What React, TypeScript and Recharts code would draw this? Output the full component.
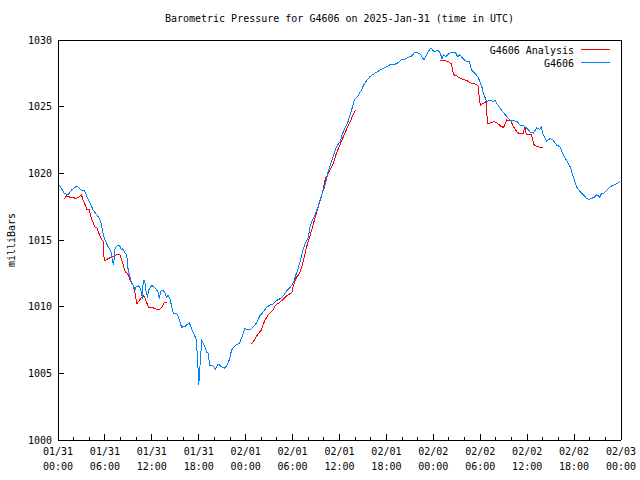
import React from "react";
import { LineChart, Line, XAxis, YAxis, Legend } from "recharts";

const FONT = '"DejaVu Sans Mono", "Liberation Mono", monospace';

// hours since 2025-01-31 00:00 UTC
const stationHours = [
  0.2, 0.8, 1.3, 1.75, 2.4, 2.7, 3.0, 3.4, 3.7, 4.1, 4.5, 4.95, 5.4, 5.6, 5.8, 6.0, 6.4, 6.8, 6.95, 7.1,
  7.3, 7.6, 7.9, 8.1, 8.3, 8.6, 8.8, 8.9, 9.1, 9.3, 9.6, 9.85, 10.0, 10.3, 10.5, 10.6, 10.8, 10.9, 11.1, 11.3,
  11.45, 11.6, 12.0, 12.4, 12.8, 12.95, 13.2, 13.5, 13.7, 13.9, 14.1, 14.3, 14.55, 14.75, 15.2, 15.4, 15.8, 16.3, 16.8, 17.1,
  17.4, 17.7, 17.95, 18.0, 18.25, 18.4, 18.8, 19.0, 19.2, 19.4, 19.85, 20.1, 20.5, 20.9, 21.3, 21.6, 21.9, 22.2, 22.7, 23.2,
  23.5, 23.9, 24.5, 25.0, 25.4, 25.8, 26.25, 26.6, 27.0, 27.5, 27.9, 28.4, 28.8, 29.2, 29.7, 30.1, 30.4, 30.7, 30.9, 31.3,
  31.7, 32.0, 32.2, 32.4, 32.8, 33.2, 33.5, 33.8, 34.1, 34.3, 34.6, 34.9, 35.2, 35.6, 36.1, 36.4, 36.7, 37.1, 37.5, 37.9,
  38.3, 38.8, 39.2, 39.9, 40.5, 41.2, 41.7, 42.1, 42.6, 43.0, 43.5, 43.9, 44.5, 45.2, 45.6, 46.0, 46.4, 46.8, 47.3, 47.7,
  48.1, 48.6, 48.9, 49.1, 49.3, 49.6, 50.0, 50.4, 50.8, 51.1, 51.4, 51.8, 52.2, 52.6, 52.9, 53.3, 53.7, 54.2, 54.4, 54.8,
  55.2, 55.7, 55.9, 56.1, 56.5, 56.9, 57.4, 57.8, 58.2, 58.7, 59.1, 59.5, 59.9, 60.4, 60.8, 61.2, 61.6, 61.8, 62.0, 62.5,
  62.9, 63.3, 63.8, 64.2, 64.6, 65.0, 65.5, 65.9, 66.3, 66.8, 67.2, 67.6, 68.0, 68.7, 68.9, 69.3, 69.5, 69.7, 70.2, 70.6,
  71.0, 71.4, 71.9,
];
const stationMb = [
  1019.1, 1018.5, 1018.4, 1018.75, 1019.05, 1018.9, 1018.7, 1018.7, 1018.25, 1017.75, 1017.25, 1016.9, 1016.5, 1016.0, 1015.4, 1015.0, 1014.5, 1014.1, 1013.5, 1013.1,
  1014.4, 1014.6, 1014.55, 1014.25, 1014.35, 1014.0, 1013.9, 1013.0, 1012.5, 1012.0, 1011.6, 1011.25, 1011.5, 1011.55, 1011.4, 1011.2, 1010.6, 1012.0, 1011.9, 1011.0,
  1010.75, 1011.25, 1011.6, 1011.4, 1011.1, 1010.6, 1011.25, 1011.2, 1011.0, 1010.7, 1010.85, 1010.6, 1010.0, 1009.5, 1009.5, 1009.25, 1008.45, 1008.55, 1008.8, 1008.3,
  1007.95, 1007.5, 1004.95, 1004.1, 1006.4, 1007.45, 1007.0, 1006.6, 1006.5, 1005.6, 1005.55, 1005.3, 1005.7, 1005.5, 1005.4, 1005.6, 1006.0, 1006.75, 1007.1, 1007.25,
  1007.7, 1008.35, 1008.25, 1008.5, 1008.8, 1009.3, 1009.6, 1009.9, 1010.1, 1010.2, 1010.45, 1010.6, 1010.8, 1011.15, 1011.45, 1011.8, 1012.35, 1012.85, 1013.25, 1014.2,
  1014.85, 1015.2, 1015.9, 1016.3, 1016.8, 1017.4, 1018.0, 1018.5, 1019.0, 1019.5, 1020.25, 1020.75, 1021.25, 1022.0, 1022.4, 1023.0, 1023.4, 1023.9, 1024.65, 1025.5,
  1025.75, 1026.25, 1026.75, 1027.25, 1027.5, 1027.75, 1027.9, 1028.0, 1028.2, 1028.15, 1028.3, 1028.5, 1028.6, 1028.8, 1029.05, 1029.05, 1028.9, 1028.5, 1029.1, 1029.4,
  1029.1, 1029.25, 1029.0, 1028.6, 1028.9, 1028.75, 1029.0, 1029.1, 1029.1, 1028.75, 1028.9, 1028.6, 1028.4, 1028.4, 1027.75, 1027.5, 1027.25, 1026.5, 1026.0, 1025.4,
  1025.45, 1025.4, 1025.5, 1025.25, 1024.9, 1024.6, 1024.25, 1024.0, 1023.95, 1023.9, 1023.6, 1023.6, 1023.4, 1023.1, 1023.0, 1023.4, 1023.3, 1023.5, 1023.0, 1022.4,
  1022.6, 1022.5, 1022.1, 1022.0, 1021.4, 1021.0, 1020.5, 1019.75, 1019.0, 1018.6, 1018.4, 1018.1, 1018.05, 1018.25, 1018.4, 1018.2, 1018.5, 1018.45, 1018.75, 1019.0,
  1019.1, 1019.2, 1019.4,
];

// null marks a break between analysis runs
const analysisHours = [
  0.8, 1.1, 1.6, 2.0, 2.2, 2.6, 3.0, 3.2, 3.5, 3.7, 4.0, 4.2, 4.5, 4.7, 5.0, 5.3, 5.6, 5.8, 5.9, 6.0,
  6.4, 6.8, 7.2, 7.7, 7.9, 8.1, 8.35, 8.6, 8.9, 9.2, 9.6, 9.8, 10.1, 10.3, 10.7, 10.9, 11.1, 11.3, 11.6, 12.2,
  12.6, 13.0, 13.2, 13.6, 14.0, 19.0,
  24.7, 25.0, 25.4, 26.0, 26.4, 26.9, 27.5, 27.8, 28.3, 28.9, 29.3, 29.9, 30.1, 30.5, 30.9, 31.2, 31.5, 31.8, 32.2, 32.6,
  33.0, 33.4, 33.8, 34.2, 34.8, 35.2, 35.6, 36.1, 36.5, 36.9, 37.4, 37.8, 38.1, 43.0,
  48.8, 49.9, 50.3, 50.6, 51.0, 51.5, 52.3, 52.7, 53.3, 53.7, 54.0, 54.4, 54.8, 54.9, 55.4, 55.8, 56.3, 56.7, 57.0, 57.4,
  57.9, 58.2, 58.7, 59.1, 59.5, 59.7, 59.9, 60.5, 60.7, 60.8, 61.2, 61.7, 62.0,
];
const analysisMb = [
  1018.1, 1018.3, 1018.2, 1018.2, 1018.1, 1018.2, 1018.4, 1018.0, 1017.6, 1017.3, 1017.3, 1016.75, 1016.3, 1016.0, 1015.9, 1015.4, 1015.0, 1014.9, 1013.5, 1013.45,
  1013.6, 1013.7, 1013.8, 1013.95, 1013.9, 1013.6, 1013.1, 1012.6, 1012.5, 1012.0, 1011.6, 1011.2, 1010.2, 1010.4, 1010.7, 1010.85, 1010.7, 1010.35, 1009.95, 1009.9,
  1009.8, 1009.8, 1009.9, 1010.3, 1010.3, null,
  1007.2, 1007.4, 1007.8, 1008.25, 1008.9, 1009.4, 1009.75, 1010.1, 1010.3, 1010.6, 1010.85, 1011.05, 1011.6, 1012.2, 1012.5, 1013.0, 1013.75, 1014.5, 1015.25, 1016.1,
  1016.9, 1017.75, 1018.5, 1019.6, 1020.25, 1020.75, 1021.5, 1022.2, 1022.75, 1023.3, 1023.9, 1024.5, 1024.75, null,
  1028.5, 1028.4, 1028.2, 1027.4, 1027.3, 1027.1, 1026.95, 1026.8, 1026.7, 1026.6, 1025.1, 1025.25, 1025.4, 1023.7, 1023.8, 1023.9, 1023.7, 1023.5, 1023.45, 1024.0,
  1023.95, 1023.55, 1023.1, 1022.95, 1023.0, 1023.5, 1022.9, 1022.95, 1022.6, 1022.2, 1022.0, 1021.95, 1021.95,
];

const seriesNames = ["G4606 Analysis", "G4606"];
const hourTicks = [0, 2, 4, 6, 8, 10, 12, 14, 16, 18, 20, 22, 24, 26, 28, 30, 32, 34, 36, 38, 40, 42, 44, 46, 48, 50, 52, 54, 56, 58, 60, 62, 64, 66, 68, 70, 72];
const tickDates = ["01/31", "01/31", "01/31", "01/31", "02/01", "02/01", "02/01", "02/01", "02/02", "02/02", "02/02", "02/02", "02/03"];
const tickTimes = ["00:00", "06:00", "12:00", "18:00", "00:00", "06:00", "12:00", "18:00", "00:00", "06:00", "12:00", "18:00", "00:00"];
const mbTicks = [1000, 1005, 1010, 1015, 1020, 1025, 1030];

const stationData = stationHours.map((t, i) => ({ t, p: stationMb[i] }));
const analysisData = analysisHours.map((t, i) => ({ t, p: analysisMb[i] }));

const axisStyle = { stroke: "#000", strokeWidth: 1, shapeRendering: "crispEdges" };

function BottomTick({ x, y, payload }: any) {
  const h = payload.value;
  const major = h % 6 === 0;
  return (
    <g>
      <line x1={x} y1={y} x2={x} y2={y - (major ? 6 : 3)} stroke="#000" shapeRendering="crispEdges" />
      {major && (
        <text x={x} y={y} textAnchor="middle" fontFamily={FONT} fontSize={10} fill="#000">
          <tspan x={x} dy={15}>{tickDates[h / 6]}</tspan>
          <tspan x={x} dy={15}>{tickTimes[h / 6]}</tspan>
        </text>
      )}
    </g>
  );
}

function TopTick({ x, y, payload }: any) {
  const major = payload.value % 6 === 0;
  return <line x1={x} y1={y} x2={x} y2={y + (major ? 6 : 3)} stroke="#000" shapeRendering="crispEdges" />;
}

function LeftTick({ x, y, payload }: any) {
  return (
    <g>
      <line x1={x} y1={y} x2={x + 6} y2={y} stroke="#000" shapeRendering="crispEdges" />
      <text x={x - 6} y={y + 3.5} textAnchor="end" fontFamily={FONT} fontSize={10} fill="#000">
        {payload.value}
      </text>
    </g>
  );
}

function RightTick({ x, y }: any) {
  return <line x1={x} y1={y} x2={x - 6} y2={y} stroke="#000" shapeRendering="crispEdges" />;
}

function YLabel({ viewBox }: any) {
  const cy = viewBox.y + viewBox.height / 2;
  return (
    <text x={11} y={cy} transform={`rotate(-90 11 ${cy})`} textAnchor="middle" dominantBaseline="central" fontFamily={FONT} fontSize={10} fill="#000">
      milliBars
    </text>
  );
}

function LegendBox({ payload }: any) {
  const items = (payload || []).slice().sort((a: any, b: any) => seriesNames.indexOf(a.value) - seriesNames.indexOf(b.value));
  return (
    <svg width={150} height={30} style={{ display: "block" }}>
      {items.map((e: any, i: number) => (
        <g key={e.value}>
          <text x={104} y={8 + i * 13 + 3.5} textAnchor="end" fontFamily={FONT} fontSize={10} fill="#000">
            {e.value}
          </text>
          <line x1={111} x2={140} y1={7.5 + i * 13} y2={7.5 + i * 13} stroke={e.color} shapeRendering="crispEdges" />
        </g>
      ))}
    </svg>
  );
}

export default function App() {
  return (
    <div style={{ position: "absolute", left: 0, top: 0, width: 640, height: 480, background: "#fff" }}>
      <div
        style={{
          position: "absolute",
          left: 58,
          width: 563,
          top: 12,
          textAlign: "center",
          fontFamily: FONT,
          fontSize: 10,
          lineHeight: "14px",
          color: "#000",
        }}
      >
        Barometric Pressure for G4606 on 2025-Jan-31 (time in UTC)
      </div>
      <LineChart width={640} height={480} margin={{ top: 39, right: 0, bottom: 0, left: 0 }}>
        <XAxis
          dataKey="t"
          type="number"
          domain={[0, 72]}
          ticks={hourTicks}
          interval={0}
          height={40}
          tickSize={0}
          tickMargin={0}
          axisLine={axisStyle}
          tickLine={false}
          tick={<BottomTick />}
        />
        <XAxis
          xAxisId="top"
          orientation="top"
          dataKey="t"
          type="number"
          domain={[0, 72]}
          ticks={hourTicks}
          interval={0}
          height={1}
          tickSize={0}
          tickMargin={0}
          axisLine={axisStyle}
          tickLine={false}
          tick={<TopTick />}
        />
        <YAxis
          type="number"
          domain={[1000, 1030]}
          ticks={mbTicks}
          interval={0}
          width={58}
          tickSize={0}
          tickMargin={0}
          axisLine={axisStyle}
          tickLine={false}
          tick={<LeftTick />}
          label={<YLabel />}
        />
        <YAxis
          yAxisId="right"
          orientation="right"
          type="number"
          domain={[1000, 1030]}
          ticks={mbTicks}
          interval={0}
          width={19}
          tickSize={0}
          tickMargin={0}
          axisLine={axisStyle}
          tickLine={false}
          tick={<RightTick />}
        />
        <Legend
          layout="horizontal"
          verticalAlign="middle"
          align="center"
          content={<LegendBox />}
          wrapperStyle={{ top: 42, left: 470, width: 150, height: 30 }}
        />
        <Line
          name={seriesNames[0]}
          data={analysisData}
          dataKey="p"
          type="linear"
          stroke="#ff0000"
          strokeWidth={1}
          shapeRendering="crispEdges"
          dot={false}
          activeDot={false}
          connectNulls={false}
          isAnimationActive={false}
        />
        <Line
          name={seriesNames[1]}
          data={stationData}
          dataKey="p"
          type="linear"
          stroke="#0080ff"
          strokeWidth={1}
          shapeRendering="crispEdges"
          dot={false}
          activeDot={false}
          isAnimationActive={false}
        />
      </LineChart>
    </div>
  );
}
